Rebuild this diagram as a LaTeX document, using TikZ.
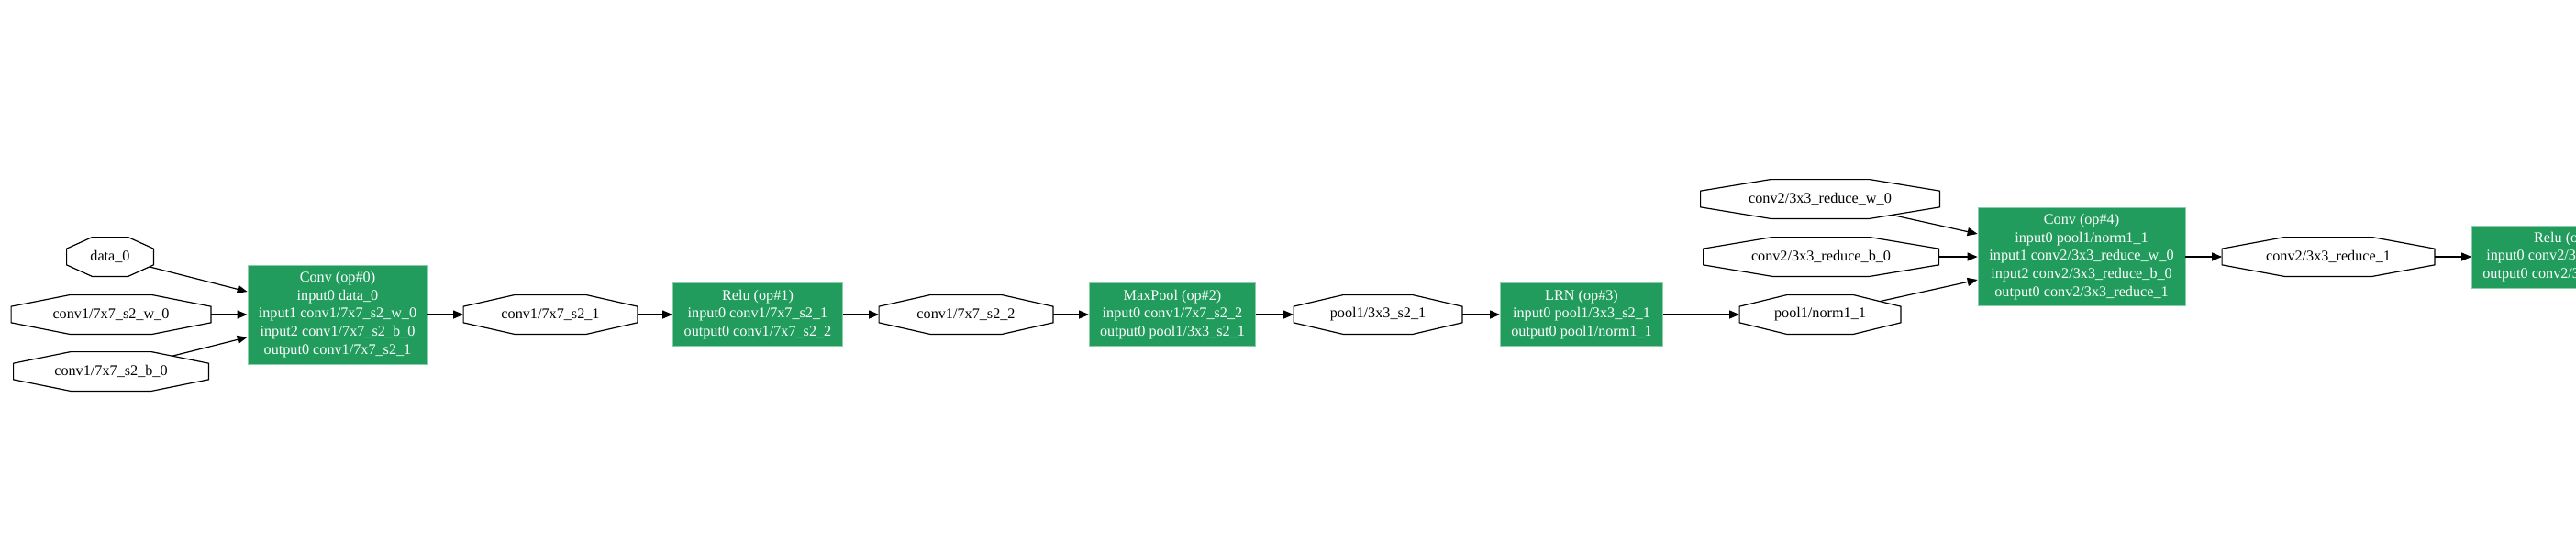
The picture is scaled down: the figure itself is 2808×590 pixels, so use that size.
\documentclass[tikz,border=0pt]{standalone}
\usepackage{fontspec}
\setmainfont{Liberation Serif}
\usetikzlibrary{arrows.meta,calc}

\definecolor{opgreen}{RGB}{33,156,92}
\definecolor{opedge}{RGB}{140,205,170}

\tikzset{
	tensor/.style={inner sep=0pt, minimum height=21pt, font=\fontsize{8.1}{9.85}\selectfont},
	op/.style={fill=opgreen, draw=opedge, line width=0.4pt, text=white, align=center, inner sep=0pt, font=\fontsize{8.1}{9.85}\selectfont},
	octline/.style={line width=0.6pt},
	flow/.style={-{Triangle[length=5.5pt,width=4.5pt]}, line width=0.6pt},
}

\begin{document}
\begin{tikzpicture}[x=0.5pt, y=-0.5pt]
	\useasboundingbox (0,0) rectangle (2808,590);
	
	% tensors
	\node[tensor, minimum width=47pt]    (data0) at (120, 280)  {data\_0};
	\node[tensor, minimum width=108.5pt] (w0)    at (121, 343)  {conv1/7x7\_s2\_w\_0};
	\node[tensor, minimum width=106pt]   (b0)    at (121, 405)  {conv1/7x7\_s2\_b\_0};
	\node[tensor, minimum width=94.5pt]  (s21)   at (600, 343)  {conv1/7x7\_s2\_1};
	\node[tensor, minimum width=94.5pt]  (s22)   at (1053, 343) {conv1/7x7\_s2\_2};
	\node[tensor, minimum width=91.5pt]  (p31)   at (1502, 343) {pool1/3x3\_s2\_1};
	\node[tensor, minimum width=130pt]   (rw0)   at (1984, 217) {conv2/3x3\_reduce\_w\_0};
	\node[tensor, minimum width=128pt]   (rb0)   at (1985, 280) {conv2/3x3\_reduce\_b\_0};
	\node[tensor, minimum width=87.5pt]  (n1)    at (1984, 343) {pool1/norm1\_1};
	\node[tensor, minimum width=115.5pt] (r1)    at (2538, 280) {conv2/3x3\_reduce\_1};
	
	% ops
	\node[op, minimum width=98pt, minimum height=54pt]     (conv0) at (368, 343)  {Conv (op\#0)\\input0 data\_0\\input1 conv1/7x7\_s2\_w\_0\\input2 conv1/7x7\_s2\_b\_0\\output0 conv1/7x7\_s2\_1};
	\node[op, minimum width=92.5pt, minimum height=34.5pt] (relu1) at (826, 343)  {Relu (op\#1)\\input0 conv1/7x7\_s2\_1\\output0 conv1/7x7\_s2\_2};
	\node[op, minimum width=90.5pt, minimum height=34.5pt] (mp2)   at (1278, 343) {MaxPool (op\#2)\\input0 conv1/7x7\_s2\_2\\output0 pool1/3x3\_s2\_1};
	\node[op, minimum width=88.5pt, minimum height=34.5pt] (lrn3)  at (1724, 343) {LRN (op\#3)\\input0 pool1/3x3\_s2\_1\\output0 pool1/norm1\_1};
	\node[op, minimum width=113pt, minimum height=53.5pt]  (conv4) at (2269, 280) {Conv (op\#4)\\input0 pool1/norm1\_1\\input1 conv2/3x3\_reduce\_w\_0\\input2 conv2/3x3\_reduce\_b\_0\\output0 conv2/3x3\_reduce\_1};
	\node[op, minimum width=106.5pt, minimum height=34pt]  (relu5) at (2801, 280) {Relu (op\#5)\\input0 conv2/3x3\_reduce\_1\\output0 conv2/3x3\_reduce\_2};
	
	% octagon outlines
	\foreach \t in {data0,w0,b0,s21,s22,p31,rw0,rb0,n1,r1}
		\draw[octline] ($(\t.north)!.414!(\t.north east)$) -- ($(\t.east)!.414!(\t.north east)$)
			-- ($(\t.east)!.414!(\t.south east)$) -- ($(\t.south)!.414!(\t.south east)$)
			-- ($(\t.south)!.414!(\t.south west)$) -- ($(\t.west)!.414!(\t.south west)$)
			-- ($(\t.west)!.414!(\t.north west)$) -- ($(\t.north)!.414!(\t.north west)$) -- cycle;
	
	% edges
	\path[flow] (data0) edge[shorten <=-2.2pt] (conv0);
	\path[flow] (w0) edge (conv0);
	\path[flow] (b0) edge[shorten <=-9.2pt] (conv0);
	\path[flow] (conv0) edge (s21);
	\path[flow] (s21) edge (relu1);
	\path[flow] (relu1) edge (s22);
	\path[flow] (s22) edge (mp2);
	\path[flow] (mp2) edge (p31);
	\path[flow] (p31) edge (lrn3);
	\path[flow] (lrn3) edge (n1);
	\path[flow] (rw0) edge[shorten <=-8.75pt] (conv4);
	\path[flow] (rb0) edge (conv4);
	\path[flow] (n1) edge[shorten <=-11.5pt] (conv4);
	\path[flow] (conv4) edge (r1);
	\path[flow] (r1) edge (relu5);
	
\end{tikzpicture}
\end{document}
